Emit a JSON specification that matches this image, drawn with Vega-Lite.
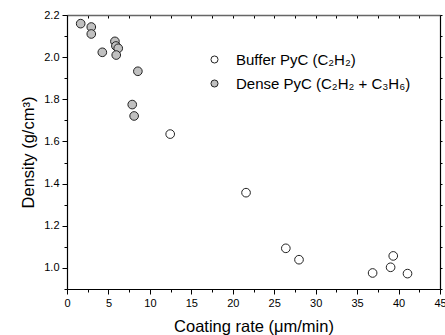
{
  "$schema": "https://vega.github.io/schema/vega-lite/v6.json",
  "width": 373,
  "height": 274,
  "autosize": {"type": "none"},
  "padding": {"left": 67, "top": 15, "right": 5, "bottom": 46},
  "background": "white",
  "config": {
    "view": {"stroke": null},
    "font": "Liberation Sans",
    "axis": {"domainColor": "black", "tickColor": "black", "labelColor": "black", "titleColor": "black", "grid": false, "labelFont": "Liberation Sans", "titleFont": "Liberation Sans", "titleFontWeight": "normal"}
  },
  "data": {
    "values": [
      {"rate": 1.65, "density": 2.159, "series": "Dense PyC (C₂H₂ + C₃H₆)"},
      {"rate": 2.93, "density": 2.143, "series": "Dense PyC (C₂H₂ + C₃H₆)"},
      {"rate": 2.93, "density": 2.11, "series": "Dense PyC (C₂H₂ + C₃H₆)"},
      {"rate": 4.26, "density": 2.023, "series": "Dense PyC (C₂H₂ + C₃H₆)"},
      {"rate": 5.78, "density": 2.075, "series": "Dense PyC (C₂H₂ + C₃H₆)"},
      {"rate": 5.9, "density": 2.053, "series": "Dense PyC (C₂H₂ + C₃H₆)"},
      {"rate": 6.18, "density": 2.042, "series": "Dense PyC (C₂H₂ + C₃H₆)"},
      {"rate": 5.94, "density": 2.01, "series": "Dense PyC (C₂H₂ + C₃H₆)"},
      {"rate": 8.55, "density": 1.933, "series": "Dense PyC (C₂H₂ + C₃H₆)"},
      {"rate": 7.87, "density": 1.775, "series": "Dense PyC (C₂H₂ + C₃H₆)"},
      {"rate": 8.1, "density": 1.721, "series": "Dense PyC (C₂H₂ + C₃H₆)"},
      {"rate": 12.45, "density": 1.635, "series": "Buffer PyC (C₂H₂)"},
      {"rate": 21.6, "density": 1.357, "series": "Buffer PyC (C₂H₂)"},
      {"rate": 26.4, "density": 1.093, "series": "Buffer PyC (C₂H₂)"},
      {"rate": 27.99, "density": 1.039, "series": "Buffer PyC (C₂H₂)"},
      {"rate": 36.87, "density": 0.976, "series": "Buffer PyC (C₂H₂)"},
      {"rate": 39.04, "density": 1.003, "series": "Buffer PyC (C₂H₂)"},
      {"rate": 39.36, "density": 1.057, "series": "Buffer PyC (C₂H₂)"},
      {"rate": 41.08, "density": 0.973, "series": "Buffer PyC (C₂H₂)"}
    ]
  },
  "resolve": {"axis": {"x": "independent", "y": "independent"}},
  "layer": [
    {
      "mark": {"type": "point", "filled": true, "shape": "circle", "size": 75, "stroke": "#222222", "strokeWidth": 1, "opacity": 1},
      "encoding": {
        "x": {
          "field": "rate", "type": "quantitative",
          "scale": {"domain": [0, 45], "nice": false, "zero": false},
          "axis": {
            "orient": "bottom",
            "title": "Coating rate (μm/min)",
            "titleFontSize": 16.5,
            "titlePadding": 10,
            "values": [0, 2.5, 5, 7.5, 10, 12.5, 15, 17.5, 20, 22.5, 25, 27.5, 30, 32.5, 35, 37.5, 40, 42.5, 45],
            "labelExpr": "datum.value % 5 === 0 ? format(datum.value, 'd') : ''",
            "labelFontSize": 11,
            "labelPadding": 3,
            "labelFlush": false,
            "labelOverlap": false,
            "tickSize": {"condition": {"test": "datum.value % 5 === 0", "value": 5}, "value": 3},
            "domainWidth": 1.2
          }
        },
        "y": {
          "field": "density", "type": "quantitative",
          "scale": {"domain": [0.9, 2.2], "nice": false, "zero": false},
          "axis": {
            "orient": "left",
            "title": "Density (g/cm³)",
            "titleFontSize": 16.5,
            "titlePadding": 7,
            "values": [0.9, 1.0, 1.1, 1.2, 1.3, 1.4, 1.5, 1.6, 1.7, 1.8, 1.9, 2.0, 2.1, 2.2],
            "labelExpr": "round(datum.value * 10) % 2 === 0 ? format(datum.value, '.1f') : ''",
            "labelFontSize": 11,
            "labelPadding": 3,
            "labelFlush": false,
            "labelOverlap": false,
            "tickSize": {"condition": {"test": "round(datum.value * 10) % 2 === 0", "value": 5}, "value": 3},
            "domainWidth": 1.2
          }
        },
        "fill": {
          "field": "series", "type": "nominal",
          "scale": {"domain": ["Buffer PyC (C₂H₂)", "Dense PyC (C₂H₂ + C₃H₆)"], "range": ["white", "#c0c0c0"]},
          "legend": {
            "title": null,
            "orient": "none",
            "legendX": 140,
            "legendY": 37,
            "symbolType": "circle",
            "symbolSize": 50,
            "symbolStrokeColor": "#222222",
            "symbolStrokeWidth": 1,
            "labelFontSize": 15,
            "labelFont": "Liberation Sans",
            "labelColor": "black",
            "labelLimit": 0,
            "labelOffset": 14,
            "rowPadding": 8,
            "padding": 0
          }
        }
      }
    },
    {
      "mark": {"type": "point", "opacity": 0},
      "encoding": {
        "x": {
          "field": "rate", "type": "quantitative",
          "scale": {"domain": [0, 45], "nice": false, "zero": false},
          "axis": {
            "orient": "top", "title": null, "labels": false,
            "values": [0, 2.5, 5, 7.5, 10, 12.5, 15, 17.5, 20, 22.5, 25, 27.5, 30, 32.5, 35, 37.5, 40, 42.5, 45],
            "tickSize": -3,
            "domainColor": "#666666",
            "domainWidth": 1.5
          }
        },
        "y": {
          "field": "density", "type": "quantitative",
          "scale": {"domain": [0.9, 2.2], "nice": false, "zero": false},
          "axis": {
            "orient": "right", "title": null, "labels": false,
            "values": [0.9, 1.0, 1.1, 1.2, 1.3, 1.4, 1.5, 1.6, 1.7, 1.8, 1.9, 2.0, 2.1, 2.2],
            "tickSize": 2,
            "domainWidth": 1.2
          }
        }
      }
    }
  ]
}
